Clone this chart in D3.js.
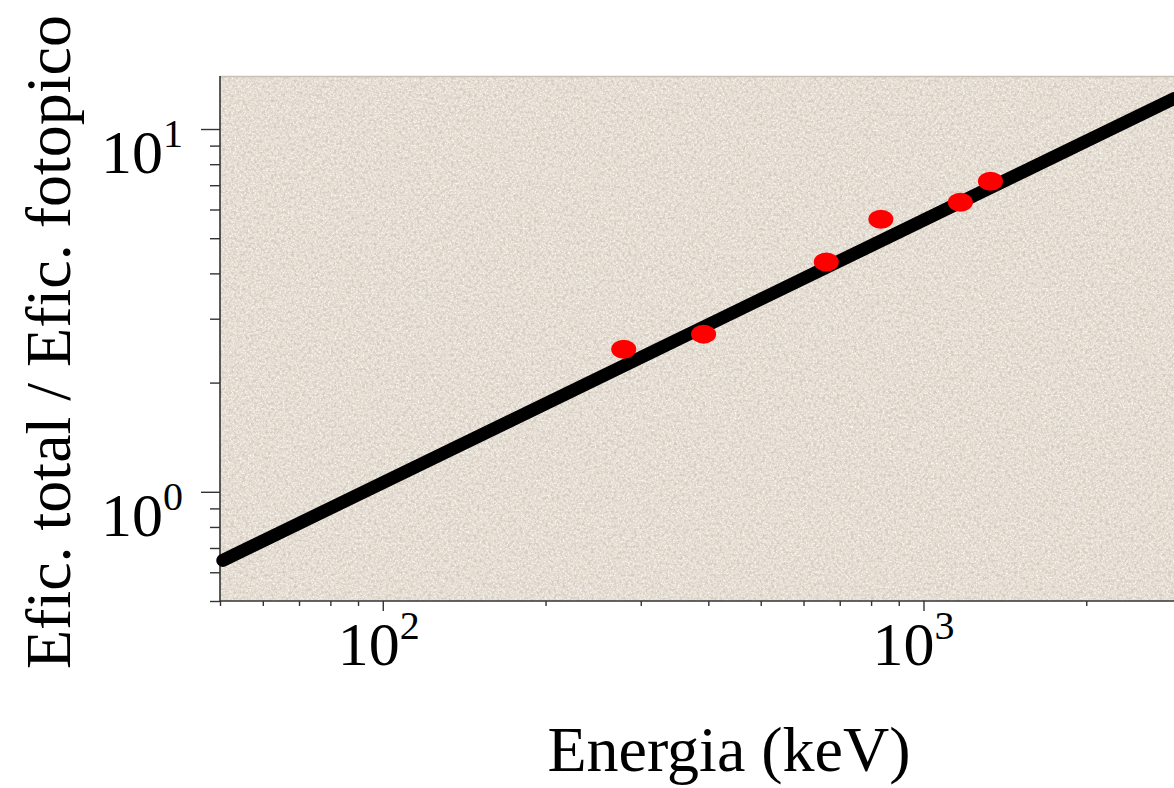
<!DOCTYPE html>
<html>
<head>
<meta charset="utf-8">
<script src="https://cdn.jsdelivr.net/npm/d3@7"></script>
<style>
  html, body { margin: 0; padding: 0; background: #fff; overflow: hidden; }
  svg { display: block; }
  text { font-family: "Liberation Serif", "DejaVu Serif", serif; fill: #000; }
</style>
</head>
<body>
<div id="container"></div>
<script>
// measured points (energy in keV, total/photopeak efficiency ratio)
const energies = [279, 392, 661, 834, 1170, 1330];
const ratios = [2.47, 2.72, 4.30, 5.64, 6.28, 7.18];

// fitted line, end points only
const fitEnergies = [50.6, 2906];
const fitRatios = [0.647, 12.13];

// tick positions and labels
const xMajor = [100, 1000];
const xMajorExp = ["2", "3"];
const xMinor = [50, 60, 70, 80, 90, 200, 300, 400, 500, 600, 700, 800, 900, 2000];
const yMajor = [1, 10];
const yMajorExp = ["0", "1"];
const yMinor = [0.5, 0.6, 0.7, 0.8, 0.9, 2, 3, 4, 5, 6, 7, 8, 9];

const width = 1174;
const height = 788;
const margin = {top: 76, right: 0, bottom: 187, left: 220};

const svg = d3.select("#container")
  .append("svg")
  .attr("width", width)
  .attr("height", height)
  .attr("viewBox", [0, 0, width, height]);

const x = d3.scaleLog()
  .domain([50, 2906])
  .range([margin.left, width - margin.right]);

const y = d3.scaleLog()
  .domain([0.5, 14])
  .range([height - margin.bottom, margin.top]);

// stone-like background texture
const defs = svg.append("defs");
const grain = defs.append("filter")
  .attr("id", "grain")
  .attr("x", 0).attr("y", 0).attr("width", "100%").attr("height", "100%");
grain.append("feTurbulence")
  .attr("type", "fractalNoise")
  .attr("baseFrequency", 0.35)
  .attr("numOctaves", 3)
  .attr("seed", 7);
grain.append("feColorMatrix")
  .attr("type", "matrix")
  .attr("values", "0 0 0 0 0.66  0 0 0 0 0.60  0 0 0 0 0.52  3.2 0 0 0 -1.45");

const grain2 = defs.append("filter")
  .attr("id", "grain2")
  .attr("x", 0).attr("y", 0).attr("width", "100%").attr("height", "100%");
grain2.append("feTurbulence")
  .attr("type", "fractalNoise")
  .attr("baseFrequency", 0.6)
  .attr("numOctaves", 2)
  .attr("seed", 21);
grain2.append("feColorMatrix")
  .attr("type", "matrix")
  .attr("values", "0 0 0 0 0.97  0 0 0 0 0.95  0 0 0 0 0.92  2.6 0 0 0 -1.1");

const plotW = x.range()[1] - x.range()[0];
const plotH = y.range()[0] - y.range()[1];

svg.append("rect")
  .attr("x", margin.left).attr("y", margin.top)
  .attr("width", plotW).attr("height", plotH)
  .attr("fill", "#e4dcd1");
svg.append("rect")
  .attr("x", margin.left).attr("y", margin.top)
  .attr("width", plotW).attr("height", plotH)
  .attr("filter", "url(#grain2)");
svg.append("rect")
  .attr("x", margin.left).attr("y", margin.top)
  .attr("width", plotW).attr("height", plotH)
  .attr("filter", "url(#grain)");

svg.append("line")
  .attr("x1", margin.left).attr("x2", width)
  .attr("y1", margin.top + 0.5).attr("y2", margin.top + 0.5)
  .attr("stroke", "#c9bfb2")
  .attr("stroke-width", 1.5);

// axes
const axisColor = "#333";
function styleAxis(g) {
  g.select(".domain").remove();
  g.selectAll(".tick line").attr("stroke", axisColor).attr("stroke-width", 1.4);
  g.selectAll(".tick text").remove();
}

svg.append("g")
  .attr("transform", `translate(0,${y.range()[0]})`)
  .call(d3.axisBottom(x).tickValues(xMinor).tickSize(5))
  .call(styleAxis);
svg.append("g")
  .attr("transform", `translate(0,${y.range()[0]})`)
  .call(d3.axisBottom(x).tickValues(xMajor).tickSize(10))
  .call(styleAxis);
svg.append("g")
  .attr("transform", `translate(${margin.left},0)`)
  .call(d3.axisLeft(y).tickValues(yMinor).tickSize(10))
  .call(styleAxis);
svg.append("g")
  .attr("transform", `translate(${margin.left},0)`)
  .call(d3.axisLeft(y).tickValues(yMajor).tickSize(19))
  .call(styleAxis);

svg.append("line")
  .attr("x1", margin.left).attr("x2", width)
  .attr("y1", y.range()[0]).attr("y2", y.range()[0])
  .attr("stroke", axisColor).attr("stroke-width", 1.6);
svg.append("line")
  .attr("x1", margin.left).attr("x2", margin.left)
  .attr("y1", margin.top).attr("y2", y.range()[0])
  .attr("stroke", axisColor).attr("stroke-width", 1.6);

// tick labels with superscripts
function powerLabel(sel) {
  sel.append("tspan").text("10");
  sel.append("tspan")
    .attr("dy", -26)
    .attr("font-size", 40)
    .text(d => d.exp);
}

svg.selectAll("text.xlab")
  .data(xMajor.map((v, i) => ({v, exp: xMajorExp[i]})))
  .join("text")
  .attr("class", "xlab")
  .attr("x", (d, i) => x(d.v) - 4 - 6 * i)
  .attr("y", y.range()[0] + 64)
  .attr("text-anchor", "middle")
  .attr("font-size", 62)
  .call(powerLabel);

svg.selectAll("text.ylab")
  .data(yMajor.map((v, i) => ({v, exp: yMajorExp[i]})))
  .join("text")
  .attr("class", "ylab")
  .attr("x", margin.left - 37)
  .attr("y", d => y(d.v) + 44)
  .attr("text-anchor", "end")
  .attr("font-size", 62)
  .call(powerLabel);

// axis titles
svg.append("text")
  .attr("x", 729)
  .attr("y", 771)
  .attr("text-anchor", "middle")
  .attr("font-size", 64)
  .text("Energia (keV)");

svg.append("text")
  .attr("transform", `translate(70,342) rotate(-90)`)
  .attr("text-anchor", "middle")
  .attr("font-size", 64)
  .text("Efic. total / Efic. fotopico");

// fitted line
const fit = fitEnergies.map((e, i) => ({e, r: fitRatios[i]}));
svg.append("path")
  .datum(fit)
  .attr("fill", "none")
  .attr("stroke", "#000")
  .attr("stroke-width", 13)
  .attr("stroke-linecap", "round")
  .attr("d", d3.line().x(d => x(d.e)).y(d => y(d.r)));

// data points
svg.selectAll("ellipse.pt")
  .data(energies.map((e, i) => ({e, r: ratios[i]})))
  .join("ellipse")
  .attr("class", "pt")
  .attr("cx", d => x(d.e))
  .attr("cy", d => y(d.r))
  .attr("rx", 12.5)
  .attr("ry", 9.5)
  .attr("fill", "#ff0000");
</script>
</body>
</html>
